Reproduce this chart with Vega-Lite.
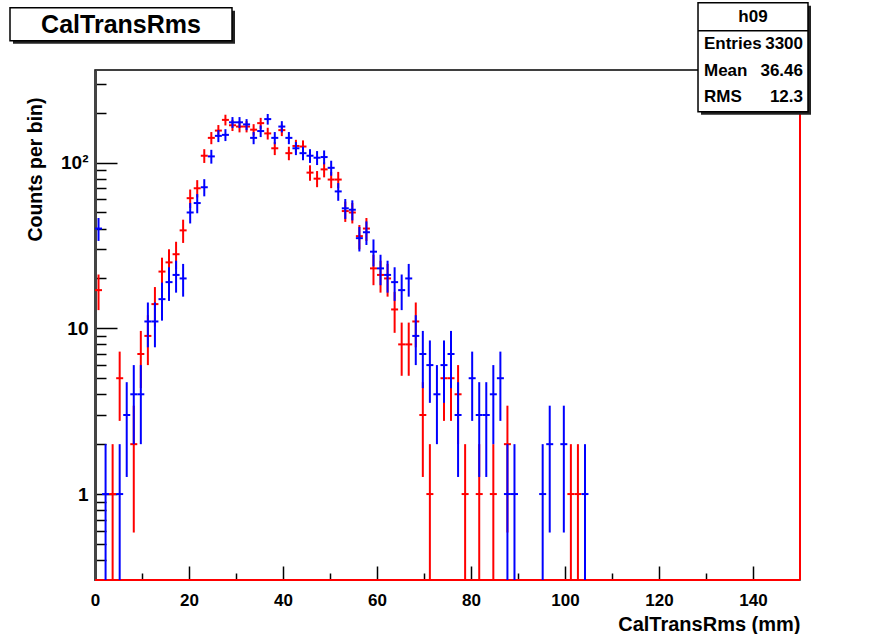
{
"$schema": "https://vega.github.io/schema/vega-lite/v6.json",
"width": 705, "height": 510,
"autosize": {"type": "none"},
"padding": {"left": 95, "top": 70, "right": 79, "bottom": 54},
"background": "white",
"config": {"view": {"stroke": "black", "strokeWidth": 1.5}, "font": "Liberation Sans"},
"datasets": {"h": [
{"s":"R","x":0.75,"n":17,"lo":12.877,"hi":21.123},
{"s":"R","x":3.75,"n":1,"lo":0,"hi":2},
{"s":"R","x":5.25,"n":5,"lo":2.764,"hi":7.236},
{"s":"R","x":8.25,"n":2,"lo":0.586,"hi":3.414},
{"s":"R","x":9.75,"n":7,"lo":4.354,"hi":9.646},
{"s":"R","x":11.25,"n":9,"lo":6,"hi":12},
{"s":"R","x":12.75,"n":14,"lo":10.258,"hi":17.742},
{"s":"R","x":14.25,"n":22,"lo":17.31,"hi":26.69},
{"s":"R","x":15.75,"n":25,"lo":20,"hi":30},
{"s":"R","x":17.25,"n":28,"lo":22.708,"hi":33.292},
{"s":"R","x":18.75,"n":39,"lo":32.755,"hi":45.245},
{"s":"R","x":20.25,"n":61,"lo":53.19,"hi":68.81},
{"s":"R","x":21.75,"n":70,"lo":61.633,"hi":78.367},
{"s":"R","x":23.25,"n":110,"lo":99.512,"hi":120.488},
{"s":"R","x":24.75,"n":141,"lo":129.126,"hi":152.874},
{"s":"R","x":26.25,"n":156,"lo":143.51,"hi":168.49},
{"s":"R","x":27.75,"n":181,"lo":167.546,"hi":194.454},
{"s":"R","x":29.25,"n":168,"lo":155.039,"hi":180.961},
{"s":"R","x":30.75,"n":165,"lo":152.155,"hi":177.845},
{"s":"R","x":32.25,"n":165,"lo":152.155,"hi":177.845},
{"s":"R","x":33.75,"n":158,"lo":145.43,"hi":170.57},
{"s":"R","x":35.25,"n":173,"lo":159.847,"hi":186.153},
{"s":"R","x":36.75,"n":150,"lo":137.753,"hi":162.247},
{"s":"R","x":38.25,"n":122,"lo":110.955,"hi":133.045},
{"s":"R","x":39.75,"n":157,"lo":144.47,"hi":169.53},
{"s":"R","x":41.25,"n":114,"lo":103.323,"hi":124.677},
{"s":"R","x":42.75,"n":126,"lo":114.775,"hi":137.225},
{"s":"R","x":44.25,"n":125,"lo":113.82,"hi":136.18},
{"s":"R","x":45.75,"n":87,"lo":77.673,"hi":96.327},
{"s":"R","x":47.25,"n":80,"lo":71.056,"hi":88.944},
{"s":"R","x":48.75,"n":91,"lo":81.461,"hi":100.539},
{"s":"R","x":50.25,"n":79,"lo":70.112,"hi":87.888},
{"s":"R","x":51.75,"n":79,"lo":70.112,"hi":87.888},
{"s":"R","x":53.25,"n":51,"lo":43.859,"hi":58.141},
{"s":"R","x":54.75,"n":50,"lo":42.929,"hi":57.071},
{"s":"R","x":56.25,"n":36,"lo":30,"hi":42},
{"s":"R","x":57.75,"n":40,"lo":33.675,"hi":46.325},
{"s":"R","x":59.25,"n":23,"lo":18.204,"hi":27.796},
{"s":"R","x":60.75,"n":21,"lo":16.417,"hi":25.583},
{"s":"R","x":62.25,"n":20,"lo":15.528,"hi":24.472},
{"s":"R","x":63.75,"n":13,"lo":9.394,"hi":16.606},
{"s":"R","x":65.25,"n":8,"lo":5.172,"hi":10.828},
{"s":"R","x":66.75,"n":8,"lo":5.172,"hi":10.828},
{"s":"R","x":68.25,"n":11,"lo":7.683,"hi":14.317},
{"s":"R","x":69.75,"n":3,"lo":1.268,"hi":4.732},
{"s":"R","x":71.25,"n":1,"lo":0,"hi":2},
{"s":"R","x":74.25,"n":5,"lo":2.764,"hi":7.236},
{"s":"R","x":75.75,"n":5,"lo":2.764,"hi":7.236},
{"s":"R","x":77.25,"n":4,"lo":2,"hi":6},
{"s":"R","x":78.75,"n":1,"lo":0,"hi":2},
{"s":"R","x":81.75,"n":1,"lo":0,"hi":2},
{"s":"R","x":84.75,"n":1,"lo":0,"hi":2},
{"s":"R","x":87.75,"n":2,"lo":0.586,"hi":3.414},
{"s":"R","x":101.25,"n":1,"lo":0,"hi":2},
{"s":"R","x":102.75,"n":1,"lo":0,"hi":2},
{"s":"B","x":0.75,"n":40,"lo":33.675,"hi":46.325},
{"s":"B","x":2.25,"n":1,"lo":0,"hi":2},
{"s":"B","x":5.25,"n":1,"lo":0,"hi":2},
{"s":"B","x":6.75,"n":3,"lo":1.268,"hi":4.732},
{"s":"B","x":8.25,"n":4,"lo":2,"hi":6},
{"s":"B","x":9.75,"n":4,"lo":2,"hi":6},
{"s":"B","x":11.25,"n":11,"lo":7.683,"hi":14.317},
{"s":"B","x":12.75,"n":11,"lo":7.683,"hi":14.317},
{"s":"B","x":14.25,"n":15,"lo":11.127,"hi":18.873},
{"s":"B","x":15.75,"n":19,"lo":14.641,"hi":23.359},
{"s":"B","x":17.25,"n":21,"lo":16.417,"hi":25.583},
{"s":"B","x":18.75,"n":20,"lo":15.528,"hi":24.472},
{"s":"B","x":20.25,"n":50,"lo":42.929,"hi":57.071},
{"s":"B","x":21.75,"n":57,"lo":49.45,"hi":64.55},
{"s":"B","x":23.25,"n":71,"lo":62.574,"hi":79.426},
{"s":"B","x":24.75,"n":109,"lo":98.56,"hi":119.44},
{"s":"B","x":26.25,"n":145,"lo":132.958,"hi":157.042},
{"s":"B","x":27.75,"n":147,"lo":134.876,"hi":159.124},
{"s":"B","x":29.25,"n":175,"lo":161.771,"hi":188.229},
{"s":"B","x":30.75,"n":175,"lo":161.771,"hi":188.229},
{"s":"B","x":32.25,"n":170,"lo":156.962,"hi":183.038},
{"s":"B","x":33.75,"n":141,"lo":129.126,"hi":152.874},
{"s":"B","x":35.25,"n":155,"lo":142.55,"hi":167.45},
{"s":"B","x":36.75,"n":183,"lo":169.472,"hi":196.528},
{"s":"B","x":38.25,"n":141,"lo":129.126,"hi":152.874},
{"s":"B","x":39.75,"n":165,"lo":152.155,"hi":177.845},
{"s":"B","x":41.25,"n":141,"lo":129.126,"hi":152.874},
{"s":"B","x":42.75,"n":122,"lo":110.955,"hi":133.045},
{"s":"B","x":44.25,"n":114,"lo":103.323,"hi":124.677},
{"s":"B","x":45.75,"n":110,"lo":99.512,"hi":120.488},
{"s":"B","x":47.25,"n":107,"lo":96.656,"hi":117.344},
{"s":"B","x":48.75,"n":108,"lo":97.608,"hi":118.392},
{"s":"B","x":50.25,"n":93,"lo":83.356,"hi":102.644},
{"s":"B","x":51.75,"n":67,"lo":58.815,"hi":75.185},
{"s":"B","x":53.25,"n":53,"lo":45.72,"hi":60.28},
{"s":"B","x":54.75,"n":52,"lo":44.789,"hi":59.211},
{"s":"B","x":56.25,"n":35,"lo":29.084,"hi":40.916},
{"s":"B","x":57.75,"n":38,"lo":31.836,"hi":44.164},
{"s":"B","x":59.25,"n":29,"lo":23.615,"hi":34.385},
{"s":"B","x":60.75,"n":23,"lo":18.204,"hi":27.796},
{"s":"B","x":62.25,"n":21,"lo":16.417,"hi":25.583},
{"s":"B","x":63.75,"n":19,"lo":14.641,"hi":23.359},
{"s":"B","x":65.25,"n":17,"lo":12.877,"hi":21.123},
{"s":"B","x":66.75,"n":20,"lo":15.528,"hi":24.472},
{"s":"B","x":68.25,"n":9,"lo":6,"hi":12},
{"s":"B","x":69.75,"n":7,"lo":4.354,"hi":9.646},
{"s":"B","x":71.25,"n":6,"lo":3.551,"hi":8.449},
{"s":"B","x":72.75,"n":4,"lo":2,"hi":6},
{"s":"B","x":74.25,"n":6,"lo":3.551,"hi":8.449},
{"s":"B","x":75.75,"n":7,"lo":4.354,"hi":9.646},
{"s":"B","x":77.25,"n":3,"lo":1.268,"hi":4.732},
{"s":"B","x":80.25,"n":5,"lo":2.764,"hi":7.236},
{"s":"B","x":81.75,"n":3,"lo":1.268,"hi":4.732},
{"s":"B","x":83.25,"n":3,"lo":1.268,"hi":4.732},
{"s":"B","x":84.75,"n":4,"lo":2,"hi":6},
{"s":"B","x":86.25,"n":5,"lo":2.764,"hi":7.236},
{"s":"B","x":87.75,"n":1,"lo":0,"hi":2},
{"s":"B","x":89.25,"n":1,"lo":0,"hi":2},
{"s":"B","x":95.25,"n":1,"lo":0,"hi":2},
{"s":"B","x":96.75,"n":2,"lo":0.586,"hi":3.414},
{"s":"B","x":99.75,"n":2,"lo":0.586,"hi":3.414},
{"s":"B","x":104.25,"n":1,"lo":0,"hi":2}
]},
"resolve": {"scale": {"y": "independent"}},
"layer": [
{
 "layer": [
  {
   "data": {"name": "h"},
   "transform": [{"filter": "datum.s == 'R'"}],
   "mark": {"type": "rule", "strokeWidth": 2, "clip": true},
   "encoding": {
    "x": {"field": "x", "type": "quantitative",
      "scale": {"domain": [0, 150], "nice": false, "zero": false},
      "axis": {
        "values": [0,5,10,15,20,25,30,35,40,45,50,55,60,65,70,75,80,85,90,95,100,105,110,115,120,125,130,135,140,145],
        "labelExpr": "datum.value % 20 == 0 ? format(datum.value, 'd') : ''",
        "tickSize": {"condition": {"test": "datum.value % 20 == 0", "value": -14}, "value": -7},
        "tickColor": "black", "tickWidth": 1.5,
        "domain": false, "grid": false,
        "labelFontSize": 17, "labelFontWeight": "bold", "labelColor": "black", "labelPadding": 26,
        "labelOverlap": false, "labelFlush": false, "labelBound": false,
        "title": "CalTransRms (mm)", "titleFontSize": 20, "titleFontWeight": "bold", "titleColor": "black",
        "titleAnchor": "end", "titleX": 705, "titleY": 44, "titleAlign": "right", "titleBaseline": "middle"
      }},
    "y": {"field": "lo", "type": "quantitative",
      "scale": {"type": "log", "domain": [0.303, 362], "nice": false, "clamp": true},
      "axis": {
        "values": [0.4,0.5,0.6,0.7,0.8,0.9,1,2,3,4,5,6,7,8,9,10,20,30,40,50,60,70,80,90,100,200,300],
        "labelExpr": "datum.value == 1 ? '1' : datum.value == 10 ? '10' : datum.value == 100 ? '10²' : ''",
        "tickSize": {"condition": {"test": "datum.value == 1 || datum.value == 10 || datum.value == 100", "value": -22}, "value": -11},
        "tickColor": "black", "tickWidth": 1.5,
        "domain": true, "domainColor": "#444444", "domainWidth": 3, "grid": false,
        "labelFontSize": 19, "labelFontWeight": "bold", "labelColor": "black", "labelPadding": 29,
        "labelOverlap": false, "labelBound": false,
        "title": "Counts per bin)", "titleFontSize": 19.5, "titleFontWeight": "bold", "titleColor": "black",
        "titleAnchor": "end", "titleAngle": -90, "titleX": -60, "titleY": 27, "titleAlign": "right", "titleBaseline": "middle"
      }},
    "y2": {"field": "hi"},
    "color": {"value": "#ff0000"}
   }
  },
  {
   "data": {"name": "h"},
   "transform": [{"filter": "datum.s == 'R'"}],
   "mark": {"type": "tick", "orient": "horizontal", "size": 7, "thickness": 2, "opacity": 1, "clip": true},
   "encoding": {
    "x": {"field": "x", "type": "quantitative"},
    "y": {"field": "n", "type": "quantitative"},
    "color": {"value": "#ff0000"}
   }
  },
  {
   "data": {"values": [{}]},
   "mark": {"type": "rule", "strokeWidth": 2},
   "encoding": {"x": {"datum": 150}, "y": {"datum": 0.303}, "y2": {"datum": 362}, "color": {"value": "#ff0000"}}
  },
  {
   "data": {"values": [{}]},
   "mark": {"type": "rule", "strokeWidth": 2},
   "encoding": {"x": {"datum": 0}, "x2": {"datum": 150}, "y": {"datum": 0.303}, "color": {"value": "#ff0000"}}
  },
  {
   "data": {"name": "h"},
   "transform": [{"filter": "datum.s == 'B'"}],
   "mark": {"type": "rule", "strokeWidth": 2, "clip": true},
   "encoding": {
    "x": {"field": "x", "type": "quantitative"},
    "y": {"field": "lo", "type": "quantitative"},
    "y2": {"field": "hi"},
    "color": {"value": "#0000ff"}
   }
  },
  {
   "data": {"name": "h"},
   "transform": [{"filter": "datum.s == 'B'"}],
   "mark": {"type": "tick", "orient": "horizontal", "size": 7, "thickness": 2, "opacity": 1, "clip": true},
   "encoding": {
    "x": {"field": "x", "type": "quantitative"},
    "y": {"field": "n", "type": "quantitative"},
    "color": {"value": "#0000ff"}
   }
  }
 ]
},
{
 "data": {"values": [{}]},
 "layer": [
  {"mark": {"type": "rect", "fill": "#222222"},
   "encoding": {"x": {"datum": -17.447}, "x2": {"datum": 29.787},
     "y": {"datum": 825.4, "type": "quantitative", "scale": {"type": "log", "domain": [0.303, 362], "nice": false}, "axis": null},
     "y2": {"datum": 521.8}}},
  {"mark": {"type": "rect", "fill": "white", "stroke": "black", "strokeWidth": 1.5},
   "encoding": {"x": {"datum": -18.085}, "x2": {"datum": 29.149},
     "y": {"datum": 860.6, "type": "quantitative"}, "y2": {"datum": 544.1}}},
  {"mark": {"type": "text", "text": "CalTransRms", "fontSize": 25, "fontWeight": "bold", "align": "center", "baseline": "middle", "color": "black"},
   "encoding": {"x": {"datum": 5.532}, "y": {"datum": 679.6, "type": "quantitative"}}},
  {"mark": {"type": "rect", "fill": "#222222"},
   "encoding": {"x": {"datum": 128.94}, "x2": {"datum": 152.34},
     "y": {"datum": 885.0, "type": "quantitative"}, "y2": {"datum": 194.6}}},
  {"mark": {"type": "rect", "fill": "white", "stroke": "black", "strokeWidth": 1.5},
   "encoding": {"x": {"datum": 128.30}, "x2": {"datum": 151.70},
     "y": {"datum": 922.6, "type": "quantitative"}, "y2": {"datum": 202.9}}},
  {"mark": {"type": "rule", "stroke": "black", "strokeWidth": 1.5},
   "encoding": {"x": {"datum": 128.30}, "x2": {"datum": 151.70},
     "y": {"datum": 625.2, "type": "quantitative"}}},
  {"mark": {"type": "text", "text": "h09", "fontSize": 17, "fontWeight": "bold", "align": "center", "baseline": "middle", "color": "black"},
   "encoding": {"x": {"datum": 140.0}, "y": {"datum": 759.5, "type": "quantitative"}}},
  {"mark": {"type": "text", "text": "Entries", "fontSize": 17, "fontWeight": "bold", "align": "left", "baseline": "middle", "color": "black"},
   "encoding": {"x": {"datum": 129.57}, "y": {"datum": 521.8, "type": "quantitative"}}},
  {"mark": {"type": "text", "text": "3300", "fontSize": 17, "fontWeight": "bold", "align": "right", "baseline": "middle", "color": "black"},
   "encoding": {"x": {"datum": 150.64}, "y": {"datum": 521.8, "type": "quantitative"}}},
  {"mark": {"type": "text", "text": "Mean", "fontSize": 17, "fontWeight": "bold", "align": "left", "baseline": "middle", "color": "black"},
   "encoding": {"x": {"datum": 129.57}, "y": {"datum": 358.5, "type": "quantitative"}}},
  {"mark": {"type": "text", "text": "36.46", "fontSize": 17, "fontWeight": "bold", "align": "right", "baseline": "middle", "color": "black"},
   "encoding": {"x": {"datum": 150.64}, "y": {"datum": 358.5, "type": "quantitative"}}},
  {"mark": {"type": "text", "text": "RMS", "fontSize": 17, "fontWeight": "bold", "align": "left", "baseline": "middle", "color": "black"},
   "encoding": {"x": {"datum": 129.57}, "y": {"datum": 249.9, "type": "quantitative"}}},
  {"mark": {"type": "text", "text": "12.3", "fontSize": 17, "fontWeight": "bold", "align": "right", "baseline": "middle", "color": "black"},
   "encoding": {"x": {"datum": 150.64}, "y": {"datum": 249.9, "type": "quantitative"}}}
 ]
}
]
}
